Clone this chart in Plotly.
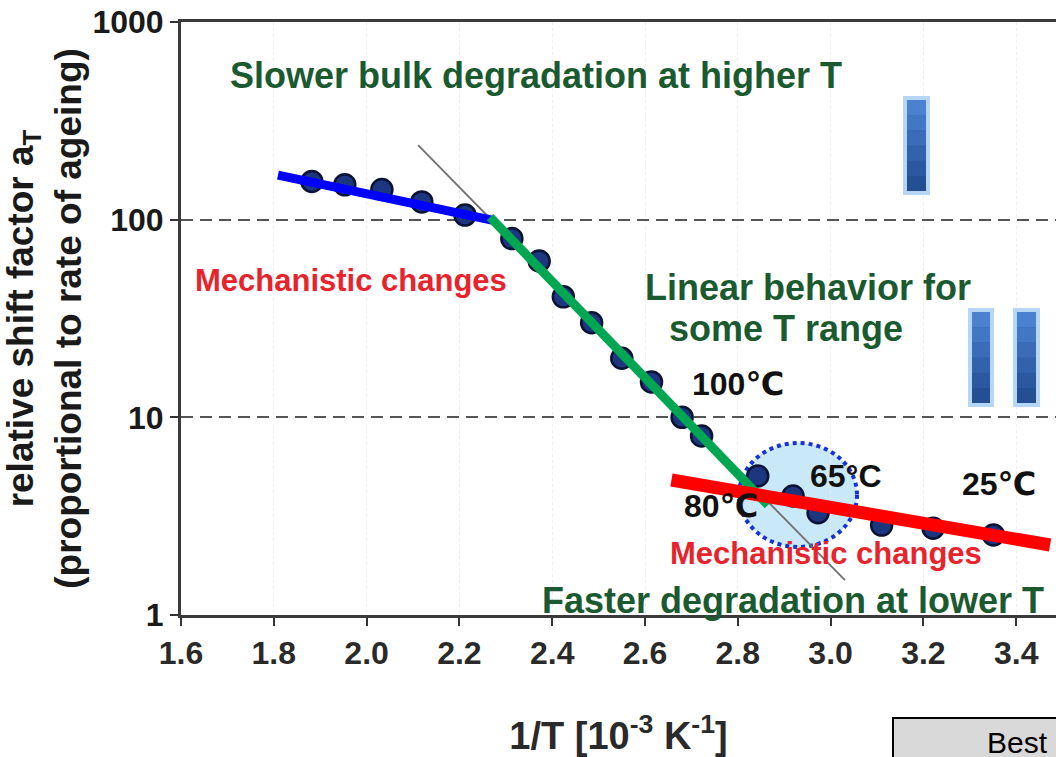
import plotly.graph_objects as go

# ---------------- data ----------------
inv_T = [1.882, 1.953, 2.033, 2.119, 2.212, 2.313, 2.372, 2.424, 2.485, 2.550,
         2.614, 2.680, 2.722, 2.843, 2.919, 2.973, 3.110, 3.221, 3.351]
shift_factor = [156, 150, 142, 123, 105.5, 80.2, 61.8, 40.7, 30.1, 19.9,
                15.1, 10.0, 8.05, 5.05, 4.0, 3.29, 2.85, 2.75, 2.54]

fit_blue_x = [1.809, 2.270]
fit_blue_y = [168, 99.5]
fit_green_x = [2.266, 2.865]
fit_green_y = [103, 3.6]
fit_red_x = [2.657, 3.473]
fit_red_y = [4.82, 2.26]
fit_gray_x = [2.111, 3.031]
fit_gray_y = [238, 1.50]

x_ticks = [1.6, 1.8, 2.0, 2.2, 2.4, 2.6, 2.8, 3.0, 3.2, 3.4]
x_ticktext = ["1.6", "1.8", "2.0", "2.2", "2.4", "2.6", "2.8", "3.0", "3.2", "3.4"]
y_ticks = [1, 10, 100, 1000]
y_ticktext = ["1", "10", "100", "1000"]

FONT = "Arial, Liberation Sans, DejaVu Sans, sans-serif"
GREEN_TXT = "#1b5a30"
RED_TXT = "#e8232b"

fig = go.Figure()

# decorative ellipse (below points)
fig.add_shape(type="circle", xref="paper", yref="paper",
              x0=0.6377, x1=0.7726, y0=0.1147, y1=0.290,
              fillcolor="rgba(165,218,245,0.6)",
              line=dict(color="#1530e0", width=4, dash="dot"),
              layer="between")
# white patch
fig.add_shape(type="rect", xref="paper", yref="paper",
              x0=(890-181)/875, x1=(947-181)/875,
              y0=(615-242)/593, y1=(615-196)/593,
              fillcolor="white", line=dict(width=0), layer="between")

fig.add_trace(go.Scatter(
    x=inv_T, y=shift_factor, mode="markers",
    marker=dict(size=21, color="#1d3680", line=dict(color="#0b1233", width=2.5)),
    showlegend=False, hoverinfo="x+y"))

fig.add_trace(go.Scatter(x=fit_gray_x, y=fit_gray_y, mode="lines",
                         line=dict(color="#6f6f6f", width=1.8), showlegend=False))
fig.add_trace(go.Scatter(x=fit_blue_x, y=fit_blue_y, mode="lines",
                         line=dict(color="#0000ff", width=9), showlegend=False))
fig.add_trace(go.Scatter(x=fit_green_x, y=fit_green_y, mode="lines",
                         line=dict(color="#00a651", width=9), showlegend=False))
fig.add_trace(go.Scatter(x=fit_red_x, y=fit_red_y, mode="lines",
                         line=dict(color="#ff0000", width=13), showlegend=False))

# blue bar icons (decorative, vertical gradient)
BAR_SHADES = ["#4a82d0", "#4277c4", "#3a6cb8", "#3262ab", "#2b589f", "#254f93"]

def bar(px0, px1, py0, py1):
    fig.add_shape(type="rect", xref="paper", yref="paper",
                  x0=(px0-181)/875, x1=(px1-181)/875,
                  y0=(615-py1)/593, y1=(615-py0)/593,
                  fillcolor="#3568b8", line=dict(color="#b5d6f6", width=4),
                  layer="above")
    n = len(BAR_SHADES)
    h = (py1 - py0 - 4) / n
    for i, c in enumerate(BAR_SHADES):
        top = py0 + 2 + i * h
        fig.add_shape(type="rect", xref="paper", yref="paper",
                      x0=(px0+2-181)/875, x1=(px1-2-181)/875,
                      y0=(615-(top+h))/593, y1=(615-top)/593,
                      fillcolor=c, line=dict(width=0), layer="above")

bar(905, 928, 98, 193)
bar(970, 992, 310, 405)
bar(1015, 1038, 310, 405)

def px_to_x(px):
    return 1.6 + (px - 181) / 464.0

def py_to_logy(py):
    return (615 - py) / 197.7

annotations = [
    ("Slower bulk degradation at higher T", 228, 75, "left", GREEN_TXT, 36),
    ("Mechanistic changes", 193, 280, "left", RED_TXT, 31),
    ("Linear behavior for", 808, 287, "center", GREEN_TXT, 36),
    ("some T range", 786, 328, "center", GREEN_TXT, 36),
    ("100℃", 690, 384, "left", "#111111", 32),
    ("80℃", 682, 506, "left", "#111111", 32),
    ("65°C", 808, 476, "left", "#111111", 32),
    ("25℃", 960, 484, "left", "#111111", 32),
    ("Mechanistic changes", 668, 553, "left", RED_TXT, 31),
    ("Faster degradation at lower T", 540, 600, "left", GREEN_TXT, 36),
]
for text, px, py, anchor, color, size in annotations:
    fig.add_annotation(text="<b>" + text + "</b>", x=px_to_x(px), y=py_to_logy(py),
                       xref="x", yref="y", xanchor=anchor, yanchor="middle",
                       showarrow=False, font=dict(family=FONT, size=size, color=color))

# "Best" box at bottom right
fig.add_shape(type="rect", xref="paper", yref="paper",
              x0=(893-181)/875, x1=(1070-181)/875,
              y0=(615-770)/593, y1=(615-718)/593,
              fillcolor="#d9d9d9", line=dict(color="black", width=2))
fig.add_annotation(text="Best", xref="paper", yref="paper",
                   x=(985-181)/875, y=(615-742)/593, xanchor="left", yanchor="middle",
                   showarrow=False, font=dict(family=FONT, size=30, color="black"))

fig.update_layout(
    width=1056, height=757,
    margin=dict(l=181, r=0, t=22, b=142, pad=0),
    paper_bgcolor="white", plot_bgcolor="white",
    font=dict(family=FONT, color="#222222"),
    showlegend=False,
    xaxis=dict(
        range=[1.6, 1.6 + 875/464.0],
        tickvals=x_ticks, ticktext=x_ticktext,
        tickfont=dict(family=FONT, size=32, color="#2a2a2a", weight="bold"),
        ticks="outside", ticklen=8, tickwidth=2, tickcolor="#333333",
        showline=True, linecolor="#3a3a3a", linewidth=3, mirror=True,
        showgrid=True, gridcolor="#eeeeee", griddash="dot", gridwidth=1,
        zeroline=False,
        title=dict(text="<b>1/T [10<sup>-3</sup> K<sup>-1</sup>]</b>",
                   font=dict(family=FONT, size=38, color="#2a2a2a"), standoff=52),
    ),
    yaxis=dict(
        type="log", range=[0, 3],
        tickvals=y_ticks, ticktext=y_ticktext,
        tickfont=dict(family=FONT, size=32, color="#1a1a1a", weight="bold"),
        ticks="outside", ticklen=8, tickwidth=2, tickcolor="#333333",
        showline=True, linecolor="#3a3a3a", linewidth=3, mirror=False,
        showgrid=True, gridcolor="#555555", griddash="12px,7px", gridwidth=1.6,
        zeroline=False,
        title=dict(text="<b>relative shift factor a<sub>T</sub><br>(proportional to rate of ageing)</b>",
                   font=dict(family=FONT, size=37, color="#1a1a1a"), standoff=0),
    ),
)

fig.write_html("out.html")
